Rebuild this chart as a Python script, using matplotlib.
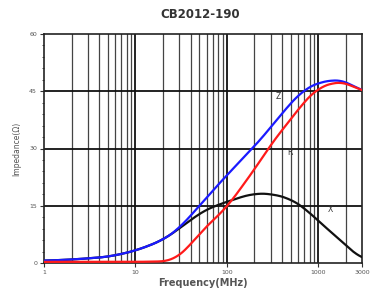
import matplotlib
matplotlib.use("Agg")
import matplotlib.pyplot as plt
from matplotlib.ticker import FixedLocator, MultipleLocator, LogLocator, NullFormatter
import numpy as np

# data
freq_z = [1, 2, 5, 10, 20, 30, 50, 70, 100, 150, 200, 300, 500, 700, 1000, 1500, 2000, 3000]
z_vals = [0.6, 0.9, 1.6, 3.2, 6.0, 9.0, 15.0, 19.0, 23.0, 27.5, 30.5, 35.5, 42.0, 45.5, 47.3, 48.0, 47.8, 44.8]

freq_r = [1, 5, 10, 20, 25, 30, 40, 50, 70, 100, 150, 200, 300, 500, 700, 1000, 1500, 2000, 3000]
r_vals = [0.3, 0.3, 0.3, 0.4, 0.6, 1.8, 4.7, 7.7, 11.2, 14.5, 20.5, 24.4, 31.0, 37.7, 42.3, 46.0, 47.3, 47.5, 44.8]

freq_x = [1, 2, 5, 10, 20, 30, 50, 70, 100, 150, 200, 300, 500, 700, 1000, 1500, 2000, 3000]
x_vals = [0.6, 0.9, 1.6, 3.2, 6.0, 9.0, 13.0, 14.8, 16.0, 17.5, 18.2, 18.2, 16.8, 14.5, 11.0, 7.3, 4.7, 0.8]

xticks = [1, 10, 100, 1000, 3000]
xtick_labels = ["1", "10", "100", "1000", "3000"]
yticks = [0, 15, 30, 45, 60]

fig = plt.figure(figsize=(3.74, 3.0), dpi=100)
ax = fig.add_axes([0.1176, 0.1233, 0.8504, 0.7634])

ax.set_xscale("log")
ax.set_xlim(1, 3000)
ax.set_ylim(0, 60)

# grid
for dec in [1, 10, 100, 1000]:
    for m in range(2, 10):
        f = dec * m
        if f < 3000:
            ax.axvline(f, color="#444444", lw=0.9, zorder=1)
for f in [10, 100, 1000]:
    ax.axvline(f, color="#111111", lw=1.3, zorder=1)
for v in [15, 30, 45]:
    ax.axhline(v, color="#111111", lw=1.3, zorder=1)

# smooth the read points on a log axis
def smooth(fs, vs):
    lf = np.log10(fs)
    xx = np.linspace(lf[0], lf[-1], 400)
    yy = np.interp(xx, lf, vs)
    k = 15
    pad = np.pad(yy, k, mode="edge")
    yy = np.convolve(pad, np.ones(2 * k + 1) / (2 * k + 1), mode="same")[k:-k]
    return 10 ** xx, yy

fx, yx = smooth(freq_x, x_vals)
fz, yz = smooth(freq_z, z_vals)
fr, yr = smooth(freq_r, r_vals)
ax.plot(fx, yx, color="#111111", lw=1.6, zorder=3)
ax.plot(fz, yz, color="#1a1aff", lw=1.6, zorder=4)
ax.plot(fr, yr, color="#ff1a1a", lw=1.6, zorder=5)

ax.text(360, 43.5, "Z", fontsize=5.5, color="#333333", ha="center", va="center", zorder=6)
ax.text(490, 29, "R", fontsize=5.5, color="#333333", ha="center", va="center", zorder=6)
ax.text(1350, 13.9, "X", fontsize=5.5, color="#333333", ha="center", va="center", zorder=6)

ax.xaxis.set_major_locator(FixedLocator(xticks))
ax.set_xticklabels(xtick_labels)
ax.xaxis.set_minor_locator(LogLocator(base=10, subs=range(2, 10)))
ax.xaxis.set_minor_formatter(NullFormatter())
ax.yaxis.set_major_locator(FixedLocator(yticks))
ax.yaxis.set_minor_locator(MultipleLocator(3))

ax.tick_params(axis="both", which="major", labelsize=4.5, labelcolor="#555555",
               length=3, width=0.8, color="#333333", pad=2)
ax.tick_params(axis="both", which="minor", length=1.5, width=0.6, color="#333333")
ax.tick_params(axis="x", which="minor", length=0)

for s in ax.spines.values():
    s.set_linewidth(1.2)
    s.set_color("#222222")

ax.set_xlabel("Frequency(MHz)", fontsize=7, fontweight="bold", color="#555555", labelpad=2)
ax.set_ylabel("Impedance(\u03a9)", fontsize=5.5, color="#555555", labelpad=6)
fig.text(0.535, 0.95, "CB2012-190", fontsize=8.5, fontweight="bold", color="#333333",
         ha="center", va="center")

fig.savefig("out.png", dpi=100)
